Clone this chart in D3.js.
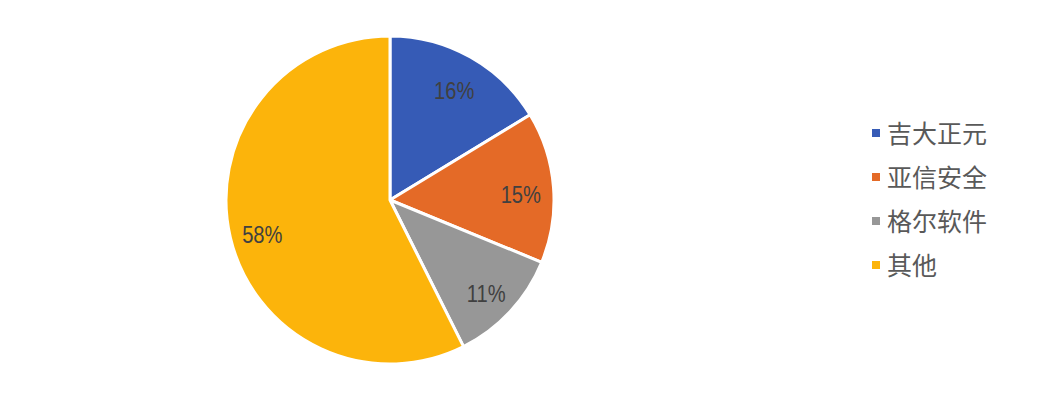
<!DOCTYPE html>
<html><head><meta charset="utf-8">
<script src="https://cdn.jsdelivr.net/npm/d3@7"></script>
<style>body{margin:0;background:#fff}</style>
</head><body>
<svg id="c" width="1054" height="412"></svg>
<script>
const categories = ["吉大正元", "亚信安全", "格尔软件", "其他"];
const values = [16.3, 14.9, 11.4, 57.4];
const labels = ["16%", "15%", "11%", "58%"];
const colors = ["#365BB6", "#E46A27", "#979797", "#FCB40B"];

const svg = d3.select("#c");
const cx = 390, cy = 200, r = 164;
const pie = d3.pie().sort(null).value(d => d)(values);
const arc = d3.arc().innerRadius(0).outerRadius(r);
const labelArc = d3.arc().innerRadius(r * 0.8).outerRadius(r * 0.8);
const g = svg.append("g").attr("transform", `translate(${cx},${cy})`);
g.selectAll("path").data(pie).join("path")
  .attr("d", arc).attr("fill", (d, i) => colors[i])
  .attr("stroke", "#fff").attr("stroke-width", 3).attr("stroke-linejoin", "round");
g.selectAll("text").data(pie).join("text")
  .attr("transform", d => `translate(${labelArc.centroid(d)}) scale(0.84,1)`)
  .attr("text-anchor", "middle").attr("dy", "0.55em")
  .attr("font-family", "'Liberation Sans',Arial,sans-serif")
  .attr("font-size", 24).attr("fill", "#404040")
  .text((d, i) => labels[i]);

const lg = svg.append("g").attr("transform", "translate(872,133)");
const items = lg.selectAll("g").data(categories).join("g")
  .attr("transform", (d, i) => `translate(0,${i * 44})`);
items.append("rect").attr("x", 0).attr("y", -4).attr("width", 8).attr("height", 8)
  .attr("fill", (d, i) => colors[i]);
items.append("text").attr("x", 15).attr("dy", "0.38em")
  .attr("font-family", "'Noto Sans CJK SC',sans-serif").attr("font-size", 25)
  .attr("fill", "#595959").text(d => d);
</script>
</body></html>
